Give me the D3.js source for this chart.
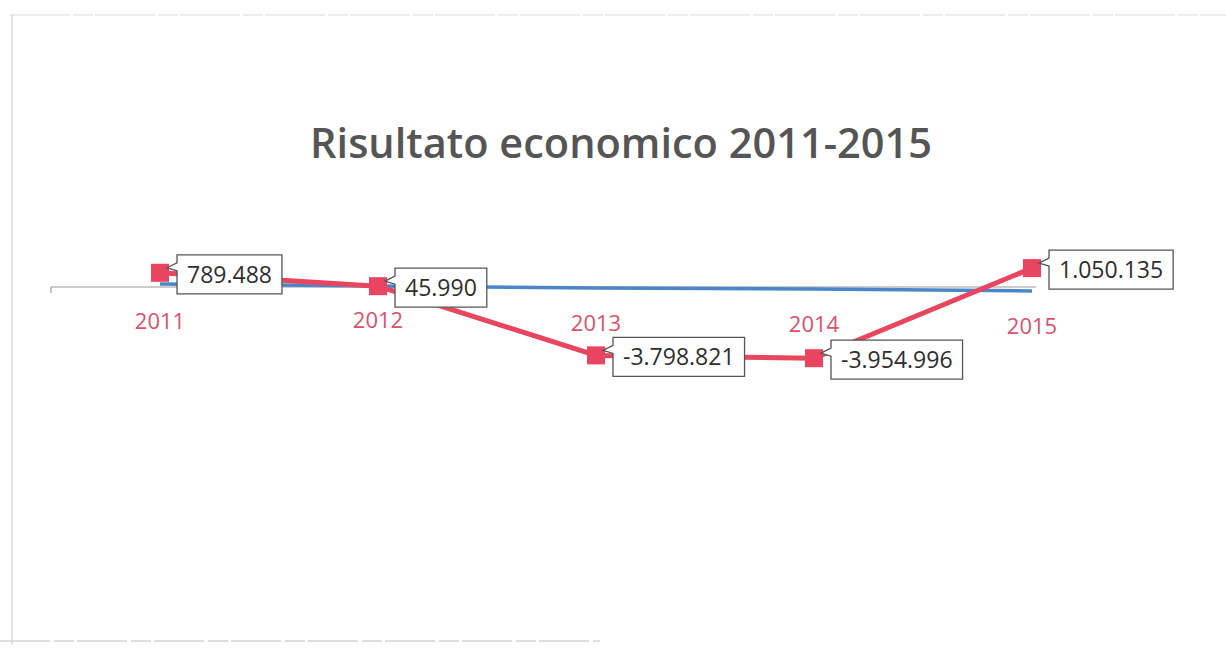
<!DOCTYPE html>
<html>
<head>
<meta charset="utf-8">
<script src="https://cdn.jsdelivr.net/npm/d3@7"></script>
<style>
  html, body { margin: 0; padding: 0; background: #fff; }
  svg { display: block; }
</style>
</head>
<body>
<svg id="chart" width="1226" height="649"></svg>
<script>
// Anni e risultati d'esercizio
const years = ["2011", "2012", "2013", "2014", "2015"];
const risultato = [789488, 45990, -3798821, -3954996, 1050135];
// Serie di riferimento quasi nulla (linea blu)
const riferimento = [170000, 60000, -60000, -110000, -220000];
const titleText = "Risultato economico 2011-2015";

const W = 1226, H = 649;
const svg = d3.select("#chart");

const itLocale = d3.formatLocale({
  decimal: ",", thousands: ".", grouping: [3], currency: ["€", ""], minus: "-"
});
const fmt = itLocale.format(",d");

// Scales
const x = d3.scalePoint().domain(years).range([160, 1032]);
const y = d3.scaleLinear().domain([-5000000, 2000000]).range([377, 251]);

// Faint page borders of the sheet
svg.append("line").attr("x1", 10).attr("x2", 1226).attr("y1", 15).attr("y2", 15)
  .attr("stroke", "#dcdcdc").attr("stroke-width", 1.2).attr("stroke-dasharray", "60 3 20 2");
svg.append("line").attr("x1", 12).attr("x2", 12).attr("y1", 15).attr("y2", 645)
  .attr("stroke", "#cfcfcf").attr("stroke-width", 1.2);
svg.append("line").attr("x1", 0).attr("x2", 600).attr("y1", 641).attr("y2", 641)
  .attr("stroke", "#d4d4d4").attr("stroke-width", 1.5).attr("stroke-dasharray", "50 4 20 3");

// Title
const title = svg.append("text")
  .attr("x", 621).attr("y", 158)
  .attr("text-anchor", "middle")
  .attr("font-family", "'Open Sans', sans-serif")
  .attr("font-weight", 600)
  .attr("font-size", 36)
  .attr("fill", "#555555")
  .text(titleText);
const tw = title.node().getComputedTextLength();
title.attr("font-size", 36 * 622 / tw);

// Category axis
const axisY = y(0);
const axisLeft = x("2011") - (x("2012") - x("2011")) / 2;
svg.append("line").attr("x1", axisLeft).attr("x2", x("2015") + 4)
  .attr("y1", axisY).attr("y2", axisY)
  .attr("stroke", "#9a9a9a").attr("stroke-width", 1.2);
svg.append("line").attr("x1", axisLeft).attr("x2", axisLeft)
  .attr("y1", axisY).attr("y2", axisY + 6)
  .attr("stroke", "#9a9a9a").attr("stroke-width", 1.2);

const labelDy = [42, 41, 44, 45, 47];
svg.append("g").selectAll("text").data(years).join("text")
  .attr("x", d => x(d))
  .attr("y", (d, i) => axisY + labelDy[i])
  .attr("text-anchor", "middle")
  .attr("font-family", "'Open Sans', sans-serif")
  .attr("font-size", 22)
  .attr("fill", "#d9526b")
  .text(d => d);

// Reference series (blue)
const line = d3.line().x((d, i) => x(years[i])).y(d => y(d));
svg.append("path").datum(riferimento)
  .attr("d", line)
  .attr("fill", "none")
  .attr("stroke", "#4a86c8")
  .attr("stroke-width", 3.5);

// Result series (red)
svg.append("path").datum(risultato)
  .attr("d", line)
  .attr("fill", "none")
  .attr("stroke", "#e8465e")
  .attr("stroke-width", 5)
  .attr("stroke-linejoin", "round");

svg.append("g").selectAll("rect").data(risultato).join("rect")
  .attr("x", (d, i) => x(years[i]) - 9)
  .attr("y", d => y(d) - 9)
  .attr("width", 18).attr("height", 18)
  .attr("fill", "#ea4560");

// Data label callouts
const lab = svg.append("g").selectAll("g").data(risultato).join("g");
lab.each(function (d, i) {
  const g = d3.select(this);
  const mx = x(years[i]), my = y(d);
  const t = g.append("text")
    .attr("font-family", "'Open Sans', sans-serif")
    .attr("font-size", 23)
    .attr("fill", "#2e2e2e")
    .text(fmt(d));
  const w = t.node().getComputedTextLength() + 20;
  const h = 39;
  const bx = mx + 17, by = my - 18;
  // box with a small pointer toward the marker
  const p = `M${bx},${by} H${bx + w} V${by + h} H${bx} V${by + 16} L${mx + 7},${my - 5} L${bx},${by + 8} Z`;
  g.insert("path", "text").attr("d", p)
    .attr("fill", "#fff").attr("stroke", "#555").attr("stroke-width", 1.3);
  t.attr("x", bx + 10).attr("y", by + 28);
});
</script>
</body>
</html>
